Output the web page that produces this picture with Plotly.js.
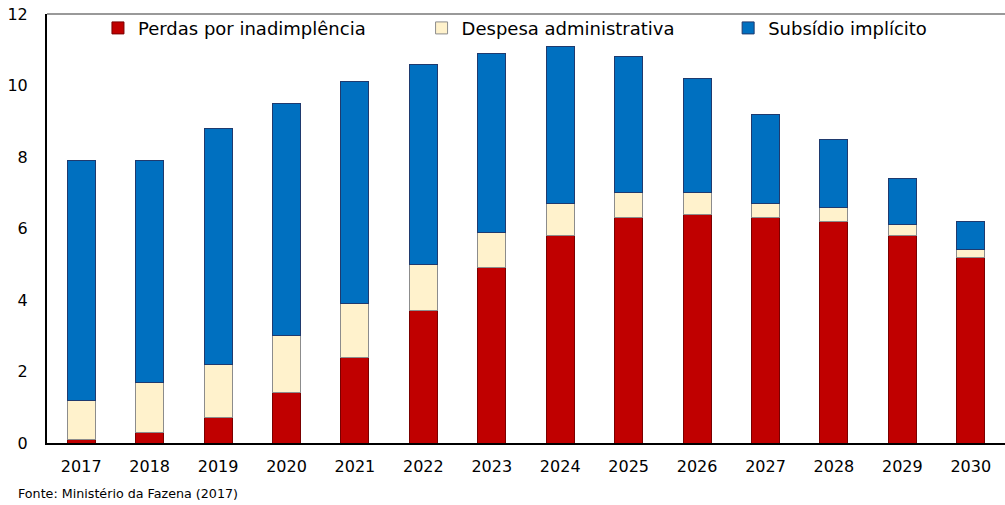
<!DOCTYPE html>
<html>
<head>
<meta charset="utf-8">
<script src="https://cdn.plot.ly/plotly-3.0.1.min.js"></script>
<style>html,body{margin:0;padding:0;background:#fff;}#chart{width:1005px;height:505px;}</style>
</head>
<body>
<div id="chart"></div>
<script>
var years = ["2017","2018","2019","2020","2021","2022","2023","2024","2025","2026","2027","2028","2029","2030"];
var perdas = [0.1, 0.3, 0.7, 1.4, 2.4, 3.7, 4.9, 5.8, 6.3, 6.4, 6.3, 6.2, 5.8, 5.2];
var despesa = [1.1, 1.4, 1.5, 1.6, 1.5, 1.3, 1.0, 0.9, 0.7, 0.6, 0.4, 0.4, 0.3, 0.2];
var subsidio = [6.7, 6.2, 6.6, 6.5, 6.2, 5.6, 5.0, 4.4, 3.8, 3.2, 2.5, 1.9, 1.3, 0.8];
var seriesNames = ["Perdas por inadimplência", "Despesa administrativa", "Subsídio implícito"];
var yTicks = [0, 2, 4, 6, 8, 10, 12];
var source = "Fonte: Ministério da Fazena (2017)";

var font = "DejaVu Sans, Verdana, sans-serif";
var traces = [
  {type:"bar", x:years, y:perdas, name:seriesNames[0], legend:"legend2",
   marker:{color:"#C00000", line:{color:"#7a0000", width:1}}},
  {type:"bar", x:years, y:despesa, name:seriesNames[1], legend:"legend3",
   marker:{color:"#FFF2CC", line:{color:"#8c8c8c", width:1}}},
  {type:"bar", x:years, y:subsidio, name:seriesNames[2], legend:"legend4",
   marker:{color:"#0070C0", line:{color:"#1f3a6e", width:1}}}
];
function leg(x){
  return {x:x, y:1.01, xanchor:"left", yanchor:"top", orientation:"h",
    bgcolor:"rgba(0,0,0,0)", font:{family:font, size:18, color:"#000"}, itemwidth:30};
}
var layout = {
  width:1005, height:505,
  margin:{l:47, r:0, t:14, b:62},
  paper_bgcolor:"#fff", plot_bgcolor:"#fff",
  barmode:"stack", bargap:0.59,
  showlegend:true,
  font:{family:font, size:16, color:"#000"},
  xaxis:{type:"category", showline:true, linecolor:"#000", linewidth:2,
    ticks:"", showgrid:false, tickfont:{family:font, size:16}, ticklabelstandoff:8},
  yaxis:{range:[0,12], tickvals:yTicks, showline:true, linecolor:"#000", linewidth:2,
    ticks:"", showgrid:false, zeroline:false, tickfont:{family:font, size:16}, ticklabelstandoff:14},
  legend2:leg(0.0532),
  legend3:leg(0.391),
  legend4:leg(0.711),
  shapes:[{type:"line", xref:"paper", yref:"paper", x0:0, x1:1, y0:1, y1:1,
    line:{color:"#777", width:1.5}}],
  annotations:[{text:source, xref:"paper", yref:"paper", x:-0.032, y:-0.1166,
    xanchor:"left", yanchor:"middle", showarrow:false, font:{family:font, size:12.7, color:"#000"}}]
};
Plotly.newPlot("chart", traces, layout, {displayModeBar:false, staticPlot:true});
</script>
</body>
</html>
